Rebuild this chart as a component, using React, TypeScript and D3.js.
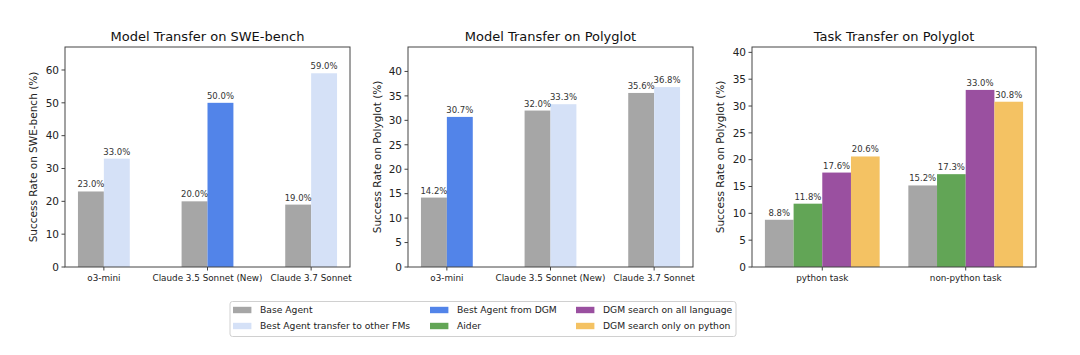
import React from "react";
import * as d3 from "d3";

const modelCategories = ["o3-mini", "Claude 3.5 Sonnet (New)", "Claude 3.7 Sonnet"];
const sweBase = [23.0, 20.0, 19.0];
const sweBest = [33.0, 50.0, 59.0];
const sweBestKind = ["transfer", "dgm", "transfer"];
const polyBase = [14.2, 32.0, 35.6];
const polyBest = [30.7, 33.3, 36.8];
const polyBestKind = ["dgm", "transfer", "transfer"];

const taskCategories = ["python task", "non-python task"];
const taskBase = [8.8, 15.2];
const taskAider = [11.8, 17.3];
const taskAllLang = [17.6, 33.0];
const taskOnlyPython = [20.6, 30.8];

const sweTicks = [0, 10, 20, 30, 40, 50, 60];
const polyTicks = [0, 5, 10, 15, 20, 25, 30, 35, 40];

const COLORS: Record<string, string> = {
  base: "#a6a6a6",
  transfer: "#d5e1f7",
  dgm: "#5284e9",
  aider: "#62a556",
  all: "#9a50a0",
  py: "#f4c263",
};

const legendItems = [
  { label: "Base Agent", key: "base", col: 0, row: 0 },
  { label: "Best Agent transfer to other FMs", key: "transfer", col: 0, row: 1 },
  { label: "Best Agent from DGM", key: "dgm", col: 1, row: 0 },
  { label: "Aider", key: "aider", col: 1, row: 1 },
  { label: "DGM search on all language", key: "all", col: 2, row: 0 },
  { label: "DGM search only on python", key: "py", col: 2, row: 1 },
];

const FONT = "DejaVu Sans, sans-serif";
const AX = "#444";

type Series = { values: number[]; colors: string[] };

function Panel(props: {
  left: number;
  right: number;
  top: number;
  bottom: number;
  title: string;
  ylabel: string;
  ylabelX: number;
  ymax: number;
  ticks: number[];
  categories: string[];
  series: Series[];
  barWidth: number;
}) {
  const { left, right, top, bottom, title, ylabel, ylabelX, ymax, ticks, categories, series, barWidth } = props;
  const n = series.length;
  const groupHalf = (n * barWidth) / 2;
  const span = categories.length - 1 + 2 * groupHalf;
  const pad = span * 0.05;
  const x = d3.scaleLinear().domain([-groupHalf - pad, categories.length - 1 + groupHalf + pad]).range([left, right]);
  const y = d3.scaleLinear().domain([0, ymax]).range([bottom, top]);
  const bars: JSX.Element[] = [];
  const labels: JSX.Element[] = [];
  categories.forEach((c, i) => {
    series.forEach((s, j) => {
      const x0 = i - groupHalf + j * barWidth;
      const v = s.values[i];
      const px0 = x(x0);
      const px1 = x(x0 + barWidth);
      bars.push(
        <rect key={`b${i}-${j}`} x={px0} y={y(v)} width={px1 - px0} height={y(0) - y(v)} fill={s.colors[i]} />
      );
      labels.push(
        <text key={`l${i}-${j}`} x={(px0 + px1) / 2} y={y(v) - 4} textAnchor="middle" fontSize={8.5} fill="#333" fontFamily={FONT}>
          {v.toFixed(1)}%
        </text>
      );
    });
  });
  return (
    <g>
      <text x={(left + right) / 2} y={top - 6} textAnchor="middle" fontSize={13} fill="#111" fontFamily={FONT}>
        {title}
      </text>
      {bars}
      {labels}
      <rect x={left} y={top} width={right - left} height={bottom - top} fill="none" stroke={AX} strokeWidth={1} />
      {ticks.map((t) => (
        <g key={`yt${t}`}>
          <line x1={left - 3.5} x2={left} y1={y(t)} y2={y(t)} stroke={AX} strokeWidth={1} />
          <text x={left - 6} y={y(t)} dy="0.36em" textAnchor="end" fontSize={10.5} fill="#222" fontFamily={FONT}>
            {t}
          </text>
        </g>
      ))}
      {categories.map((c, i) => (
        <g key={`xt${i}`}>
          <line x1={x(i)} x2={x(i)} y1={bottom} y2={bottom + 3.5} stroke={AX} strokeWidth={1} />
          <text x={x(i)} y={bottom + 14} textAnchor="middle" fontSize={8.8} fill="#222" fontFamily={FONT}>
            {c}
          </text>
        </g>
      ))}
      <text
        transform={`translate(${ylabelX},${(top + bottom) / 2}) rotate(-90)`}
        textAnchor="middle"
        dy="0.36em"
        fontSize={10.5}
        fill="#222"
        fontFamily={FONT}
      >
        {ylabel}
      </text>
    </g>
  );
}

export default function App() {
  const top = 47;
  const bottom = 267;
  const colX = [233, 430, 576];
  const rowY = [310, 326];
  return (
    <svg width={1080} height={355} style={{ position: "absolute", left: 0, top: 0, background: "#fff" }}>
      <rect width={1080} height={355} fill="#fff" />
      <Panel
        left={65}
        right={350}
        top={top}
        bottom={bottom}
        title="Model Transfer on SWE-bench"
        ylabel="Success Rate on SWE-bench (%)"
        ylabelX={33}
        ymax={67}
        ticks={sweTicks}
        categories={modelCategories}
        barWidth={0.25}
        series={[
          { values: sweBase, colors: sweBase.map(() => COLORS.base) },
          { values: sweBest, colors: sweBestKind.map((k) => COLORS[k]) },
        ]}
      />
      <Panel
        left={408}
        right={693}
        top={top}
        bottom={bottom}
        title="Model Transfer on Polyglot"
        ylabel="Success Rate on Polyglot (%)"
        ylabelX={377}
        ymax={45}
        ticks={polyTicks}
        categories={modelCategories}
        barWidth={0.25}
        series={[
          { values: polyBase, colors: polyBase.map(() => COLORS.base) },
          { values: polyBest, colors: polyBestKind.map((k) => COLORS[k]) },
        ]}
      />
      <Panel
        left={752}
        right={1036}
        top={top}
        bottom={bottom}
        title="Task Transfer on Polyglot"
        ylabel="Success Rate on Polyglot (%)"
        ylabelX={720}
        ymax={41}
        ticks={polyTicks}
        categories={taskCategories}
        barWidth={0.2}
        series={[
          { values: taskBase, colors: taskBase.map(() => COLORS.base) },
          { values: taskAider, colors: taskAider.map(() => COLORS.aider) },
          { values: taskAllLang, colors: taskAllLang.map(() => COLORS.all) },
          { values: taskOnlyPython, colors: taskOnlyPython.map(() => COLORS.py) },
        ]}
      />
      <rect x={230} y={301.5} width={506} height={35} rx={2.5} fill="#fff" stroke="#d0d0d0" strokeWidth={1} />
      {legendItems.map((it) => (
        <g key={it.label}>
          <rect x={colX[it.col]} y={rowY[it.row] - 3.2} width={18.4} height={6.4} fill={COLORS[it.key]} />
          <text x={colX[it.col] + 27} y={rowY[it.row]} dy="0.36em" fontSize={9.2} fill="#222" fontFamily={FONT}>
            {it.label}
          </text>
        </g>
      ))}
    </svg>
  );
}
